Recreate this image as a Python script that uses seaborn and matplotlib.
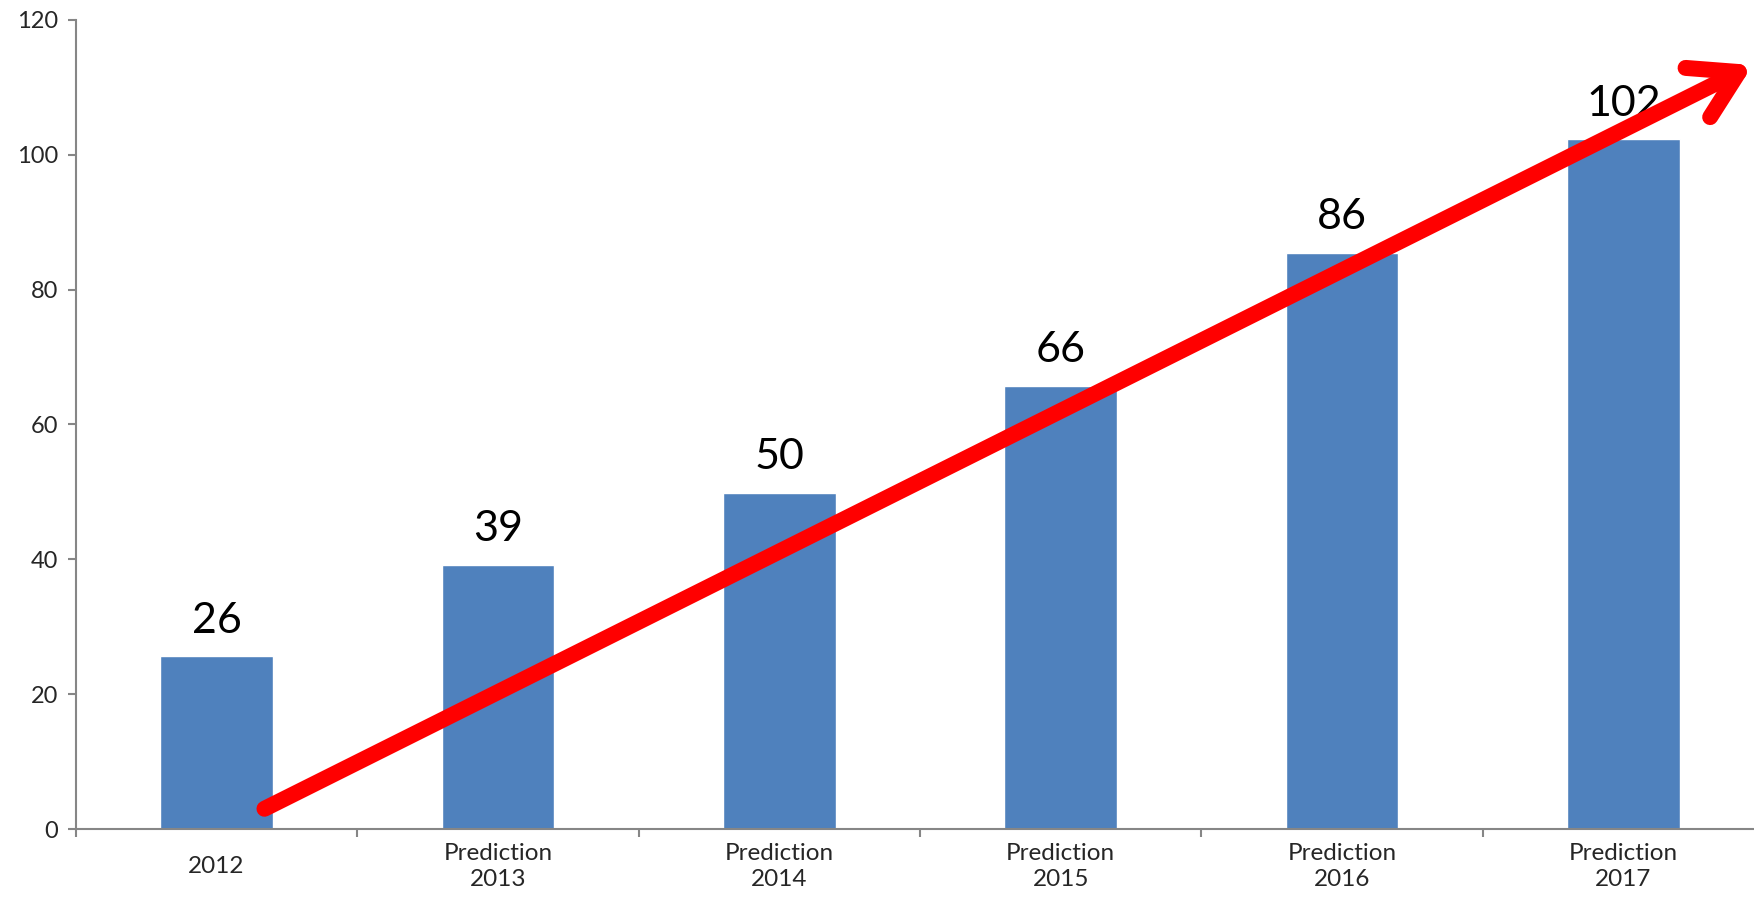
import numpy as np
import pandas as pd
import matplotlib
matplotlib.use('Agg')
import matplotlib.pyplot as plt
import seaborn as sns

# Chart data
categories = ['2012', 'Prediction\n2013', 'Prediction\n2014', 'Prediction\n2015',
              'Prediction\n2016', 'Prediction\n2017']
values = [25.6, 39.2, 49.9, 65.7, 85.5, 102.3]
value_labels = ['26', '39', '50', '66', '86', '102']
y_ticks = [0, 20, 40, 60, 80, 100, 120]

# Trend arrow (data coordinates: category index, value)
arrow_start = (0.17, 3.0)
arrow_end = (5.46, 113.3)

sns.set_theme(style='white')
plt.rcParams['font.family'] = ['Lato', 'DejaVu Sans']

df = pd.DataFrame({'category': categories, 'value': values})

fig = plt.figure(figsize=(17.54, 8.97), dpi=100)
ax = fig.add_axes([0.0433, 0.0758, 0.9624, 0.902])

sns.barplot(data=df, x='category', y='value', color='#4F81BD', width=0.4,
            saturation=1, ax=ax)

# Value labels above bars
for i, (v, lab) in enumerate(zip(values, value_labels)):
    ax.annotate(lab, (i, v), xytext=(0, 12), textcoords='offset points',
                ha='center', va='bottom', fontsize=31, color='black')

ax.set_xlim(-0.5, 5.5)
ax.set_ylim(0, 120)
ax.set_yticks(y_ticks)
ax.set_xlabel('')
ax.set_ylabel('')

gray = '#868686'
for side in ['top', 'right']:
    ax.spines[side].set_visible(False)
for side in ['left', 'bottom']:
    ax.spines[side].set_color(gray)
    ax.spines[side].set_linewidth(1.5)

ax.tick_params(axis='y', which='major', direction='out', length=6, width=1.5,
               color=gray, pad=7, labelsize=17, left=True)
ax.set_xticks(range(len(categories)))
ax.set_xticklabels(categories)
ax.set_xticks(np.arange(-0.5, len(categories), 1.0), minor=True)
ax.tick_params(axis='x', which='major', length=0, pad=27, labelsize=17.5)
ax.tick_params(axis='x', which='minor', direction='out', length=6, width=1.5,
               color=gray, bottom=True)
for lab in ax.get_xticklabels():
    lab.set_va('center')
    lab.set_linespacing(1.25)

# Red trend arrow
ax.annotate('', xy=arrow_end, xytext=arrow_start,
            arrowprops=dict(arrowstyle='->,head_length=0.55,head_width=0.33',
                            color='#FF0000', lw=11.5, mutation_scale=60,
                            shrinkA=0, shrinkB=0, capstyle='round',
                            joinstyle='round'),
            annotation_clip=False)

fig.savefig('out.png', dpi=100)
